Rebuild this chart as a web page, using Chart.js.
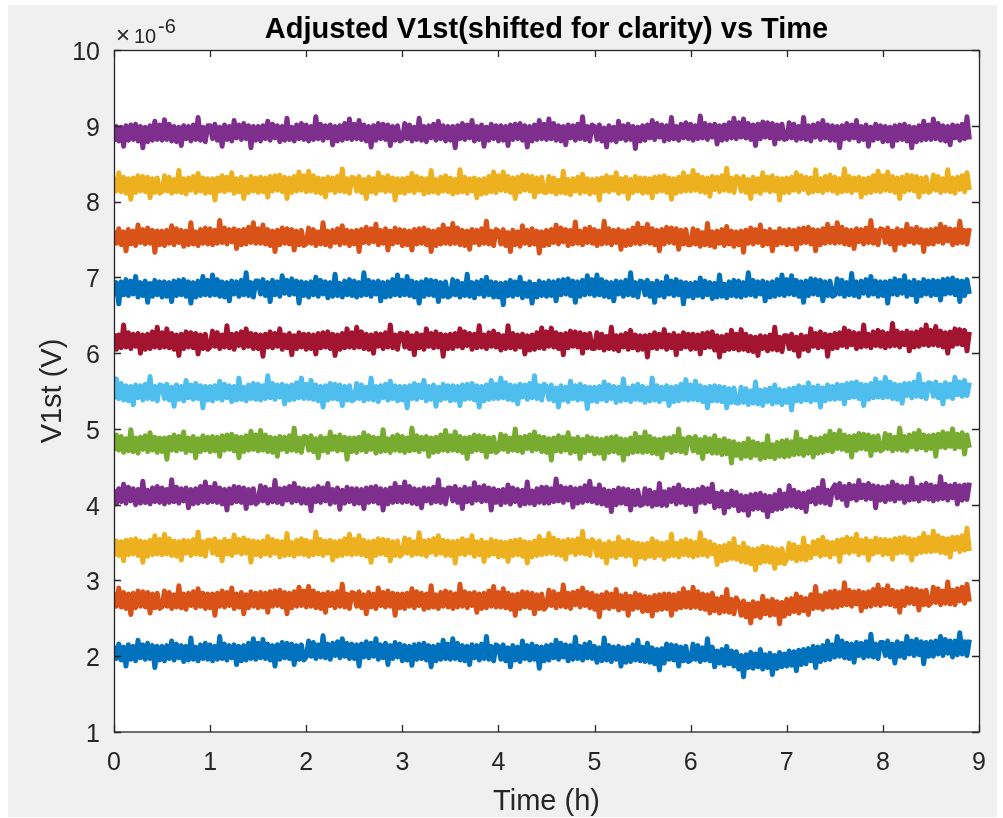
<!DOCTYPE html>
<html>
<head>
<meta charset="utf-8">
<title>Adjusted V1st vs Time</title>
<script src="https://cdn.jsdelivr.net/npm/chart.js@4.4.1/dist/chart.umd.min.js"></script>
<style>
  html, body { margin: 0; padding: 0; background: #fff; }
  canvas { display: block; }
</style>
</head>
<body>
<canvas id="v1stChart" width="1003" height="818"></canvas>
<script>
// samples every 0.025 h, from 0 h to 8.9 h (one row below = half an hour)
const sampleStepHours = 0.025;
const sampleCount = 357;

const timeTicks = [0, 1, 2, 3, 4, 5, 6, 7, 8, 9];
const voltTicks = [1, 2, 3, 4, 5, 6, 7, 8, 9, 10];

// adjusted V1st traces (shifted for clarity), in units of 1e-8 V, bottom trace first
const trace1 = [
  214,197,216,195,212,187,215,196,213,194,221,198,215,196,217,197,214,185,213,195,
  213,194,214,197,220,195,216,198,214,193,213,195,224,196,212,194,215,197,217,196,
  215,194,213,196,226,197,216,195,214,198,215,189,213,194,214,195,217,197,223,196,
  217,198,222,197,216,195,214,187,215,196,218,198,217,197,216,189,214,196,215,195,
  199,220,200,218,197,215,199,227,198,216,196,217,201,219,198,223,200,217,197,216,
  197,215,187,216,199,219,198,217,200,223,196,215,198,217,189,214,197,218,199,216,
  194,214,195,213,188,215,196,216,197,217,195,214,186,213,194,215,196,221,197,216,
  196,223,197,217,195,214,194,213,189,215,198,214,195,216,197,226,196,213,194,215,
  213,196,215,194,211,186,214,195,212,193,220,197,214,195,216,196,213,184,212,194,
  214,195,215,198,221,196,217,199,215,194,214,196,225,197,213,195,216,198,218,197,
  213,192,211,194,224,195,214,193,212,196,213,187,211,192,212,193,215,195,221,194,
  212,193,217,192,211,190,209,182,210,191,216,196,215,195,214,187,212,194,213,193,
  195,216,196,214,193,211,195,223,194,212,186,207,191,209,188,213,190,207,187,206,
  183,201,173,202,185,205,184,203,186,209,183,202,185,204,176,201,184,205,186,203,
  187,207,188,206,181,208,189,209,190,210,194,213,185,212,193,214,195,220,196,215,
  199,226,200,220,198,217,197,216,192,218,201,217,198,219,200,229,199,216,197,218,
  218,201,220,199,216,191,219,200,217,198,226,203,220,201,222,202,219,190,218,200,
  219,200,220,203,226,201,222,204,220,199,220,202,231,203,219,201,222
];
const trace2 = [
  285,266,290,265,284,263,282,255,283,264,286,266,285,265,284,257,282,264,283,263,
  265,286,266,284,263,281,265,293,264,282,262,283,267,285,264,289,266,283,263,282,
  264,282,254,283,266,286,265,284,267,290,263,282,265,284,256,281,264,285,266,283,
  264,284,265,283,258,285,266,286,267,287,265,284,256,283,264,285,266,291,267,286,
  265,292,266,286,264,283,263,282,258,284,267,283,264,285,266,295,265,282,263,284,
  283,266,285,264,281,256,284,265,282,263,290,267,284,265,286,266,283,254,282,264,
  282,263,283,266,289,264,285,267,283,262,282,264,293,265,281,263,284,266,286,265,
  284,263,282,265,295,266,285,264,283,267,284,258,282,263,283,264,286,266,292,265,
  284,265,289,264,283,262,281,254,282,263,285,265,284,264,283,256,281,263,282,262,
  266,287,267,285,264,282,266,294,265,283,263,284,268,286,265,290,267,284,264,283,
  262,280,252,281,264,284,263,282,265,288,261,280,263,282,254,279,262,283,264,281,
  259,279,260,278,253,280,261,281,262,282,263,282,254,281,262,283,264,289,265,284,
  264,291,265,285,263,282,262,281,257,283,260,276,257,278,259,288,258,275,256,277,
  271,254,273,252,269,244,272,253,270,251,279,256,273,254,275,255,272,243,271,253,
  275,256,276,259,282,257,278,260,276,255,281,263,292,264,280,262,283,265,285,264,
  286,265,284,267,297,268,287,266,285,269,286,260,284,265,285,266,288,268,294,267,
  288,269,293,268,287,266,285,258,286,267,290,270,289,269,288,261,286,268,287,267,
  270,291,271,289,268,286,270,298,269,287,268,289,273,291,270,295,272
];
const trace3 = [
  332,352,333,351,326,353,334,354,335,355,333,352,324,351,332,353,334,359,335,354,
  334,361,335,355,333,352,332,351,327,353,336,352,333,354,335,364,334,351,332,353,
  353,336,355,334,351,326,354,335,352,333,360,337,354,335,356,336,353,324,352,334,
  351,332,352,335,358,333,354,336,352,331,351,333,362,334,350,332,353,335,355,334,
  353,332,351,334,364,335,354,333,352,336,353,327,351,332,352,333,355,335,361,334,
  354,335,359,334,353,332,351,324,352,333,355,335,354,334,353,326,351,333,352,332,
  335,356,336,354,333,351,335,363,334,352,332,353,337,355,334,359,336,353,333,352,
  333,351,323,352,335,355,334,353,336,359,332,351,334,353,325,350,333,354,335,352,
  331,351,332,350,325,352,333,353,334,354,332,351,323,350,331,352,333,358,334,353,
  335,362,336,356,334,353,333,352,328,354,337,353,334,355,336,365,335,352,333,354,
  350,333,352,331,348,323,351,332,349,330,357,334,351,332,353,333,350,321,349,331,
  348,329,349,332,355,330,351,333,349,328,350,332,361,333,349,331,352,334,354,333,
  352,331,350,333,363,334,353,332,351,335,347,321,345,326,346,327,349,329,355,328,
  344,325,349,324,343,322,341,314,342,323,345,325,344,324,343,316,341,323,342,322,
  328,349,329,347,326,344,328,356,327,345,330,351,335,353,332,357,334,351,331,350,
  335,353,325,354,337,357,336,355,338,361,334,353,336,355,327,352,335,356,337,354,
  334,354,335,353,328,355,336,356,337,357,336,355,327,354,335,356,337,362,338,357,
  338,365,339,359,337,356,336,355,331,357,341,357,338,359,340,369,339
];
const trace4 = [
  420,401,421,404,427,402,423,405,421,400,420,402,431,403,419,401,422,404,424,403,
  422,401,420,403,433,404,423,402,421,405,422,396,420,401,421,402,424,404,430,403,
  423,404,428,403,422,401,420,393,421,402,424,404,423,403,422,395,420,402,421,401,
  404,425,405,423,402,420,404,432,403,421,401,422,406,424,403,428,405,422,402,421,
  402,420,392,421,404,424,403,422,405,428,401,420,403,422,394,419,402,423,404,421,
  401,421,402,420,395,422,403,423,404,424,402,421,393,420,401,422,403,428,404,423,
  403,430,404,424,402,421,401,420,396,422,405,421,402,423,404,433,403,420,401,422,
  422,405,424,403,420,395,423,404,421,402,429,406,423,404,425,405,422,393,421,403,
  419,400,420,403,426,401,422,404,420,399,419,401,430,402,418,400,421,403,423,402,
  423,402,421,404,434,405,424,403,422,406,423,397,421,402,422,403,425,405,431,404,
  421,402,426,401,420,399,418,391,419,400,422,402,421,401,420,393,418,400,419,399,
  400,421,401,419,398,416,400,428,399,417,399,420,404,422,401,426,403,420,400,419,
  401,419,391,420,403,423,402,421,404,427,396,415,398,417,389,414,397,418,399,416,
  392,412,393,411,386,413,394,414,395,415,393,412,384,411,392,413,394,419,395,414,
  398,425,399,419,397,416,396,415,391,417,404,420,401,422,403,432,402,419,400,421,
  426,409,428,407,424,399,427,408,425,406,432,409,426,407,428,408,425,396,424,406,
  423,404,424,407,430,405,426,408,424,403,424,406,435,407,423,405,426,408,428,407,
  426,405,424,407,437,408,427,406,425,409,427,401,425,406,426,407,429
];
const trace5 = [
  471,492,472,490,469,487,471,499,470,488,468,489,473,491,470,495,472,489,469,488,
  470,488,460,489,472,492,471,490,473,496,469,488,471,490,462,487,470,491,472,489,
  470,490,471,489,464,491,472,492,473,493,471,490,462,489,470,491,472,497,473,492,
  471,498,472,492,470,489,469,488,464,490,473,489,470,491,472,501,471,488,469,490,
  489,472,491,470,487,462,490,471,488,469,496,473,490,471,492,472,489,460,488,470,
  488,469,489,472,495,470,491,473,489,468,488,470,499,471,487,469,490,472,492,471,
  490,469,488,471,501,472,491,470,489,473,490,464,488,469,489,470,492,472,498,471,
  491,472,496,471,490,469,488,461,489,470,492,472,491,471,490,463,488,470,489,469,
  472,493,473,491,470,488,472,500,471,489,469,490,474,492,471,496,473,490,470,489,
  469,487,459,488,471,491,470,489,472,495,468,487,470,489,461,486,469,490,471,488,
  467,487,468,486,461,488,469,489,470,490,468,487,459,486,467,488,469,494,470,489,
  469,496,470,490,468,487,467,486,462,488,472,488,469,490,471,500,470,487,468,489,
  488,471,490,469,486,461,489,470,487,468,491,468,485,466,487,467,484,455,483,465,
  480,461,481,464,487,462,483,465,481,460,480,462,491,463,479,461,482,464,484,463,
  485,464,483,466,496,467,486,465,484,468,489,463,487,468,488,469,491,471,497,470,
  493,474,498,473,492,471,490,463,491,472,494,474,493,473,492,465,490,472,491,471,
  473,494,474,492,471,489,473,501,472,490,471,492,476,494,473,498,475,492,472,491,
  474,492,464,493,476,496,475,494,477,500,474,493,476,495,467,492,475
];
const trace6 = [
  539,566,540,560,538,557,537,556,532,558,541,557,538,559,540,569,539,556,537,558,
  557,540,559,538,555,530,558,539,556,537,564,541,558,539,560,540,557,528,556,538,
  556,537,557,540,563,538,559,541,557,536,556,538,567,539,555,537,558,540,560,539,
  559,538,557,540,570,541,560,539,558,542,559,533,557,538,558,539,561,541,567,540,
  559,540,564,539,558,537,556,529,557,538,560,540,559,539,558,531,556,538,557,537,
  539,560,540,558,537,555,539,567,538,556,536,557,541,559,538,563,540,557,537,556,
  538,556,528,557,540,560,539,558,541,564,537,556,539,558,530,555,538,559,540,557,
  537,557,538,556,531,558,539,559,540,560,538,557,529,556,537,558,539,564,540,559,
  540,567,541,561,539,558,538,557,533,559,542,558,539,560,541,570,540,557,538,559,
  556,539,558,537,554,529,557,538,555,536,563,540,557,538,559,539,556,527,555,537,
  555,536,556,539,562,537,558,540,556,535,555,537,566,538,554,536,557,539,559,538,
  556,535,554,537,567,538,557,536,555,539,557,531,555,536,556,537,559,539,565,538,
  558,539,563,538,557,536,555,528,556,537,557,537,556,536,555,528,553,535,554,534,
  534,555,535,553,532,550,534,562,533,551,531,552,536,554,533,558,535,552,532,551,
  535,553,525,554,537,557,536,555,538,561,536,555,538,557,529,554,537,558,539,556,
  539,559,540,558,533,560,541,561,542,562,540,559,531,558,539,560,541,566,542,561,
  541,568,542,562,540,559,539,558,534,560,544,560,541,562,543,572,542,559,540,561,
  560,543,562,541,558,533,561,542,559,540,568,545,562,543,564,544,561
];
const trace7 = [
  626,605,624,607,637,608,627,606,625,609,626,600,624,605,625,606,628,608,634,607,
  627,608,632,607,626,605,624,597,625,606,628,608,627,607,626,599,624,606,625,605,
  608,629,609,627,606,624,608,636,607,625,605,626,610,628,607,632,609,626,606,625,
  606,624,596,625,608,628,607,626,609,632,605,624,607,626,598,623,606,627,608,625,
  605,625,606,624,599,626,607,627,608,628,606,625,597,624,605,626,607,632,608,627,
  607,634,608,628,606,625,605,624,600,626,609,625,606,627,608,637,607,624,605,626,
  625,608,627,606,623,598,626,607,624,605,632,609,626,607,628,608,625,596,624,606,
  625,606,626,609,632,607,628,610,626,605,625,607,636,608,624,606,627,609,629,608,
  625,604,623,606,636,607,626,605,624,608,625,599,623,604,624,605,627,607,633,606,
  628,609,633,608,627,606,625,598,626,607,629,609,628,608,627,600,625,607,626,606,
  606,627,607,625,604,622,606,634,605,623,603,624,608,626,605,630,607,624,604,623,
  605,623,595,624,607,627,606,625,608,631,605,624,607,626,598,623,606,627,608,625,
  605,625,606,624,599,626,607,627,608,628,604,623,595,622,603,624,605,630,606,625,
  604,631,605,625,603,622,602,621,597,623,606,622,603,624,605,634,604,621,602,623,
  623,606,625,604,621,596,624,605,622,603,632,609,626,607,628,608,625,596,624,606,
  626,607,627,610,633,608,629,611,627,606,626,608,637,609,625,607,628,610,630,609,
  628,607,626,609,639,610,629,608,627,611,629,603,627,608,628,609,631,611,637,610,
  630,611,635,610,629,608,627,600,628,609,632,612,631,611,630,603,628
];
const trace8 = [
  675,693,665,694,677,697,676,695,678,701,674,693,676,695,667,692,675,696,677,694,
  674,694,675,693,668,695,676,696,677,697,675,694,666,693,674,695,676,701,677,696,
  676,703,677,697,675,694,674,693,669,695,678,694,675,696,677,706,676,693,674,695,
  695,678,697,676,693,668,696,677,694,675,702,679,696,677,698,678,695,666,694,676,
  693,674,694,677,700,675,696,678,694,673,693,675,704,676,692,674,695,677,697,676,
  695,674,693,676,706,677,696,675,694,678,695,669,693,674,694,675,697,677,703,676,
  696,677,701,676,695,674,693,666,694,675,697,677,696,676,695,668,693,675,694,674,
  676,697,677,695,674,692,676,704,675,693,673,694,678,696,675,700,677,694,674,693,
  674,692,664,693,676,696,675,694,677,700,673,692,675,694,666,691,674,695,676,693,
  675,695,676,694,669,696,677,697,678,698,676,695,667,694,675,696,677,702,678,697,
  676,703,677,697,675,694,674,693,669,695,678,694,675,696,677,706,676,693,674,695,
  694,677,696,675,692,667,695,676,693,674,701,678,695,676,697,677,694,665,693,675,
  692,673,693,676,699,674,695,677,693,672,692,674,703,675,691,673,694,676,696,675,
  695,674,693,676,706,677,696,675,694,678,695,669,693,674,694,675,697,677,703,676,
  697,678,702,677,696,675,694,667,695,676,698,678,697,677,696,669,694,676,695,675,
  677,698,678,696,675,693,677,705,676,694,674,695,679,697,676,701,678,695,675,694,
  676,694,666,695,678,698,677,696,679,702,675,694,677,696,668,693,676,697,678,695,
  676,696,677,695,670,697,678,698,679,699,677,696,668,695,676,697,678
];
const trace9 = [
  762,745,764,743,760,735,763,744,761,742,769,746,763,744,765,745,762,733,761,743,
  761,742,762,745,768,743,764,746,762,741,761,743,772,744,760,742,763,745,765,744,
  764,743,762,745,775,746,765,744,763,747,764,738,762,743,763,744,766,746,772,745,
  764,745,769,744,763,742,761,734,762,743,765,745,764,744,763,736,761,743,762,742,
  744,765,745,763,742,760,744,772,743,761,741,762,746,764,743,768,745,762,742,761,
  744,762,734,763,746,766,745,764,747,770,743,762,745,764,736,761,744,765,746,763,
  742,762,743,761,736,763,744,764,745,765,743,762,734,761,742,763,744,769,745,764,
  744,771,745,765,743,762,742,761,737,763,746,762,743,764,745,774,744,761,742,763,
  761,744,763,742,759,734,762,743,760,741,768,745,762,743,764,744,761,732,760,742,
  762,743,763,746,769,744,765,747,763,742,762,744,773,745,761,743,764,746,766,745,
  763,742,761,744,774,745,764,743,762,746,763,737,761,742,762,743,765,745,771,744,
  765,746,770,745,764,743,762,735,763,744,766,746,765,745,764,737,762,744,763,743,
  743,764,744,762,741,759,743,771,742,760,740,761,745,763,742,767,744,761,741,760,
  743,761,733,762,745,765,744,763,746,769,742,761,744,763,735,760,743,764,745,762,
  743,763,744,762,737,764,745,765,746,766,744,763,735,762,743,764,745,770,746,765,
  745,772,746,766,744,763,743,762,738,764,747,763,744,765,746,775,745,762,743,764,
  763,746,765,744,761,736,764,745,762,743,770,747,764,745,766,746,763,734,762,744,
  763,744,764,747,770,745,766,748,764,743,763,745,774,746,762,744,765
];
const trace10 = [
  833,814,838,813,832,811,830,803,831,812,834,814,833,813,832,805,830,812,831,811,
  813,834,814,832,811,829,813,841,812,830,810,831,815,833,812,837,814,831,811,830,
  812,830,802,831,814,834,813,832,815,838,811,830,813,832,804,829,812,833,814,831,
  812,832,813,831,806,833,814,834,815,835,813,832,804,831,812,833,814,839,815,834,
  813,840,814,834,812,831,811,830,806,832,815,831,812,833,814,843,813,830,811,832,
  831,814,833,812,829,804,832,813,830,811,838,815,832,813,834,814,831,802,830,812,
  830,811,831,814,837,812,833,815,831,810,830,812,841,813,829,811,832,814,834,813,
  831,810,829,812,842,813,832,811,830,814,831,805,829,810,830,811,833,813,839,812,
  834,815,839,814,833,812,831,804,832,813,835,815,834,814,833,806,831,813,832,812,
  812,833,813,831,810,828,812,840,811,829,809,830,814,832,811,836,813,830,810,829,
  812,830,802,831,814,834,813,832,815,838,811,830,813,832,804,829,812,833,814,831,
  811,831,812,830,805,832,813,833,814,834,812,831,803,830,811,832,813,838,814,833,
  814,841,815,835,813,832,812,831,807,833,816,832,813,834,815,844,814,831,812,833,
  831,814,833,812,829,804,832,813,830,811,838,815,832,813,834,814,831,802,830,812,
  831,812,832,815,838,813,834,816,832,811,831,813,842,814,830,812,833,815,835,814,
  832,811,830,813,843,814,833,812,831,815,832,806,830,811,831,812,834,814,840,813,
  834,815,839,814,833,812,831,804,832,813,835,815,834,814,833,806,831,813,832,812,
  814,835,815,833,812,830,814,842,813,831,811,832,816,834,813,838,815
];
const trace11 = [
  879,899,880,898,873,900,881,901,882,902,880,899,871,898,879,900,881,906,882,901,
  881,908,882,902,880,899,879,898,874,900,883,899,880,901,882,911,881,898,879,900,
  900,883,902,881,898,873,901,882,899,880,907,884,901,882,903,883,900,871,899,881,
  899,880,900,883,906,881,902,884,900,879,899,881,910,882,898,880,901,883,903,882,
  901,880,899,882,912,883,902,881,900,884,901,875,899,880,900,881,903,883,909,882,
  902,883,907,882,901,880,899,872,900,881,903,883,902,882,901,874,899,881,900,880,
  882,903,883,901,880,898,882,910,881,899,879,900,884,902,881,906,883,900,880,899,
  881,899,871,900,883,903,882,901,884,907,880,899,882,901,873,898,881,902,883,900,
  880,900,881,899,874,901,882,902,883,903,881,900,872,899,880,901,882,907,883,902,
  882,909,883,903,881,900,880,899,875,901,884,900,881,902,883,912,882,899,880,901,
  899,882,901,880,897,872,900,881,898,879,906,883,900,881,902,882,899,870,898,880,
  900,881,901,884,907,882,903,885,901,880,900,882,911,883,899,881,902,884,904,883,
  902,881,900,883,913,884,903,882,901,885,902,876,900,881,901,882,904,884,910,883,
  904,885,909,884,903,882,901,874,902,883,905,885,904,884,903,876,901,883,902,882,
  883,904,884,902,881,899,883,911,882,900,880,901,885,903,882,907,884,901,881,900,
  881,899,871,900,883,903,882,901,884,907,880,899,882,901,873,898,881,902,883,900,
  879,899,880,898,873,900,881,901,882,902,880,899,871,898,879,900,881,906,882,901,
  882,909,883,903,881,900,880,899,875,901,884,900,881,902,883,912,882
];

const traces = [trace1, trace2, trace3, trace4, trace5, trace6, trace7, trace8, trace9, trace10, trace11];
const traceColors = ["#0072BD", "#D95319", "#EDB120", "#7E2F8E", "#77AC30", "#4DBEEE",
                     "#A2142F", "#0072BD", "#D95319", "#EDB120", "#7E2F8E"];

traces.forEach((t, i) => {
  if (t.length !== sampleCount) throw new Error("trace" + (i + 1) + " has " + t.length + " samples");
});

const axisColor = "#262626";
const fontFamily = '"Liberation Sans", Arial, Helvetica, sans-serif';

Chart.defaults.font.family = fontFamily;
Chart.defaults.color = axisColor;

// matlab style figure: grey background, boxed axes with inward ticks, title and labels
const matlabFrame = {
  id: "matlabFrame",
  beforeDraw(chart) {
    const ctx = chart.ctx;
    const a = chart.chartArea;
    ctx.save();
    ctx.fillStyle = "#ffffff";
    ctx.fillRect(0, 0, chart.width, chart.height);
    ctx.fillStyle = "#f0f0f0";
    ctx.fillRect(8, 5, 989, 812);
    ctx.fillStyle = "#ffffff";
    ctx.fillRect(a.left, a.top, a.right - a.left, a.bottom - a.top);
    ctx.restore();
  },
  afterDraw(chart) {
    const ctx = chart.ctx;
    const a = chart.chartArea;
    const xs = chart.scales.x;
    const ys = chart.scales.y;
    const tick = 7;
    ctx.save();
    ctx.strokeStyle = axisColor;
    ctx.lineWidth = 1.3;
    ctx.strokeRect(a.left + 0.5, a.top + 0.5, a.right - a.left, a.bottom - a.top - 0.5);
    ctx.beginPath();
    timeTicks.forEach(v => {
      const px = Math.round(xs.getPixelForValue(v)) + 0.5;
      ctx.moveTo(px, a.bottom); ctx.lineTo(px, a.bottom - tick);
      ctx.moveTo(px, a.top); ctx.lineTo(px, a.top + tick);
    });
    voltTicks.forEach(v => {
      const py = Math.round(ys.getPixelForValue(v)) + 0.5;
      ctx.moveTo(a.left, py); ctx.lineTo(a.left + tick, py);
      ctx.moveTo(a.right, py); ctx.lineTo(a.right - tick, py);
    });
    ctx.stroke();

    const cx = (a.left + a.right) / 2;
    ctx.fillStyle = "#000000";
    ctx.textAlign = "center";
    ctx.textBaseline = "alphabetic";
    ctx.font = "bold 29px " + fontFamily;
    ctx.fillText("Adjusted V1st(shifted for clarity) vs Time", cx, 38);

    ctx.fillStyle = axisColor;
    ctx.font = "29px " + fontFamily;
    ctx.fillText("Time (h)", cx, 810);

    ctx.save();
    ctx.translate(61, (a.top + a.bottom) / 2);
    ctx.rotate(-Math.PI / 2);
    ctx.fillText("V1st (V)", 0, 0);
    ctx.restore();

    // axis exponent
    ctx.textAlign = "left";
    ctx.font = "24px " + fontFamily;
    ctx.fillText("\u00d7", 116, 43);
    ctx.font = "20px " + fontFamily;
    ctx.fillText("10", 134, 43);
    ctx.fillText("-6", 158, 33);
    ctx.restore();
  }
};

const datasets = traces.map((t, i) => ({
  label: "trace " + (i + 1),
  data: t.map((v, k) => ({ x: k * sampleStepHours, y: v / 100 })),
  borderColor: traceColors[i],
  backgroundColor: traceColors[i],
  borderWidth: 5,
  borderJoinStyle: "round",
  pointRadius: 0,
  tension: 0,
  fill: false
}));

new Chart(document.getElementById("v1stChart"), {
  type: "line",
  data: { datasets: datasets },
  options: {
    responsive: false,
    animation: false,
    devicePixelRatio: 1,
    layout: { padding: { top: 50, right: 24, left: 0, bottom: 0 } },
    plugins: {
      legend: { display: false },
      title: { display: false },
      tooltip: { enabled: false }
    },
    scales: {
      x: {
        type: "linear",
        min: 0,
        max: 9,
        afterBuildTicks: s => { s.ticks = timeTicks.map(v => ({ value: v })); },
        afterFit: s => { s.height = 86; },
        grid: { display: false, drawTicks: false },
        border: { display: false },
        ticks: { font: { size: 25 }, color: axisColor, padding: 16, maxRotation: 0, autoSkip: false }
      },
      y: {
        type: "linear",
        min: 1,
        max: 10,
        afterBuildTicks: s => { s.ticks = voltTicks.map(v => ({ value: v })); },
        afterFit: s => { s.width = 114; },
        grid: { display: false, drawTicks: false },
        border: { display: false },
        ticks: { font: { size: 25 }, color: axisColor, padding: 14, labelOffset: 3, autoSkip: false }
      }
    }
  },
  plugins: [matlabFrame]
});
</script>
</body>
</html>
